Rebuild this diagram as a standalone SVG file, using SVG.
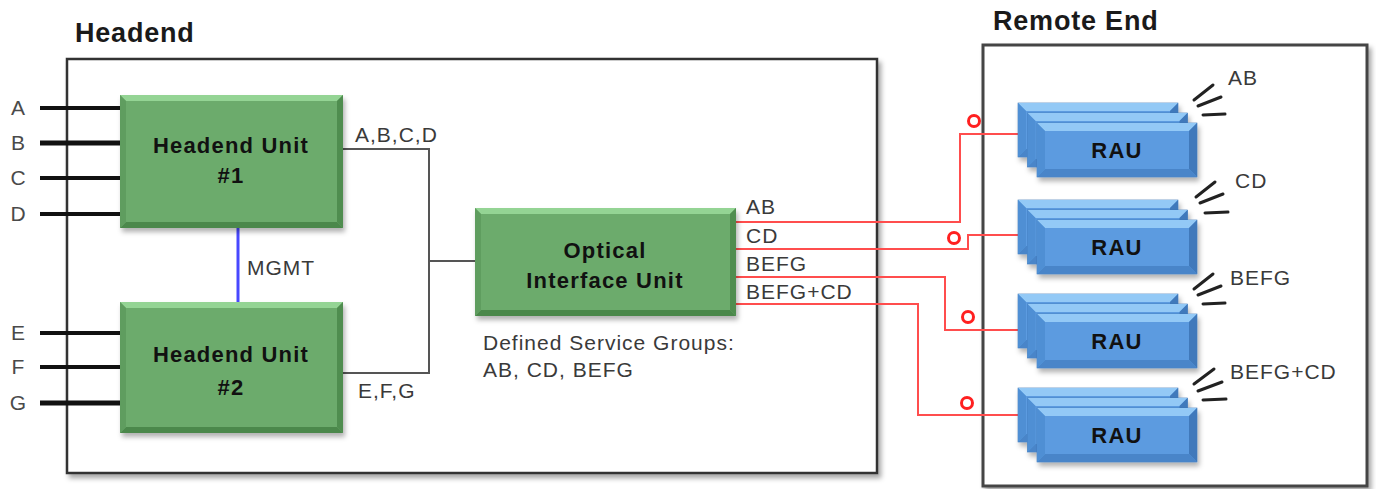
<svg xmlns="http://www.w3.org/2000/svg" width="1376" height="489" viewBox="0 0 1376 489">
<defs>
<filter id="sh" x="-5%" y="-5%" width="112%" height="115%"><feDropShadow dx="3" dy="4" stdDeviation="2.5" flood-color="#000" flood-opacity="0.35"/></filter>
<filter id="shs" x="-10%" y="-10%" width="125%" height="135%"><feDropShadow dx="2" dy="4" stdDeviation="2.5" flood-color="#000" flood-opacity="0.3"/></filter>
<g id="blk">
<rect x="0" y="0" width="160" height="54" class="bm"/>
<polygon points="0,0 160,0 152,8 8,8" class="btp"/>
<polygon points="160,0 160,54 152,46 152,8" class="brt"/>
<polygon points="0,54 160,54 152,46 8,46" class="bbt"/>
<polygon points="0,0 8,8 8,46 0,54" class="blf"/>
</g>
<g id="stack" filter="url(#shs)">
<use href="#blk" x="0" y="0"/>
<use href="#blk" x="9.5" y="10"/>
<use href="#blk" x="19" y="20"/>
</g>
</defs>
<style>
.title{font-family:"Liberation Sans",Arial,sans-serif;font-weight:bold;font-size:27px;fill:#1a1a1a;letter-spacing:0.8px}
.lbl{font-family:"Liberation Sans",Arial,sans-serif;font-size:21px;fill:#3a3a3a;letter-spacing:1px}
.io{font-family:"Liberation Sans",Arial,sans-serif;font-size:21px;fill:#4a4a4a;text-anchor:middle}
.nt{font-family:"Liberation Sans",Arial,sans-serif;font-weight:bold;font-size:22px;fill:#111;text-anchor:middle;letter-spacing:1.2px}
.box{fill:#fff;stroke:#333;stroke-width:2.5}
.gm{fill:#6cab6c}.gtp{fill:#94d494}.grt{fill:#4f8d4f}.gbt{fill:#4c884c}.glf{fill:#5f9d5f}
.bm{fill:#5b9be0;stroke:#3d74b4;stroke-width:0.6}.btp{fill:#93c9f6}.brt{fill:#3f79bb}.bbt{fill:#4985c9}.blf{fill:#4f8fd4}
.in{stroke:#111;stroke-width:4}
.gw{stroke:#555;stroke-width:2;fill:none}
.red{stroke:#ff4d4d;stroke-width:2;fill:none}
.ring{stroke:#ff2020;stroke-width:3;fill:#fff}
.ant{stroke:#222;stroke-width:3;stroke-linecap:round}
.mg{stroke:#4848ff;stroke-width:3}
</style>

<g id="headend">
<rect x="67" y="59" width="810" height="414" class="box" filter="url(#sh)"/>
<text x="75" y="42" class="title">Headend</text>
</g>
<g id="remote-end">
<rect x="983" y="45" width="384" height="441" class="box" filter="url(#sh)" style="stroke:#444;stroke-width:3"/>
<text x="993" y="30" class="title">Remote End</text>
</g>

<g id="inputs">
<line x1="40" y1="108" x2="121" y2="108" class="in"/>
<line x1="40" y1="143" x2="121" y2="143" class="in" style="stroke-width:5"/>
<line x1="40" y1="178" x2="121" y2="178" class="in"/>
<line x1="40" y1="214" x2="121" y2="214" class="in"/>
<line x1="40" y1="333" x2="121" y2="333" class="in"/>
<line x1="40" y1="367" x2="121" y2="367" class="in"/>
<line x1="40" y1="403" x2="121" y2="403" class="in" style="stroke-width:5"/>
<text x="18" y="115" class="io">A</text>
<text x="18" y="150" class="io">B</text>
<text x="18" y="185" class="io">C</text>
<text x="18" y="221" class="io">D</text>
<text x="18" y="340" class="io">E</text>
<text x="18" y="374" class="io">F</text>
<text x="18" y="410" class="io">G</text>
</g>

<g id="connectors">
<line x1="238" y1="228" x2="238" y2="302" class="mg"/>
<path d="M343,149 H429 V373 H343" class="gw"/>
<path d="M429,261 H475" class="gw"/>
<path d="M736,222 H960 V134 H1018" class="red"/>
<path d="M736,249 H968 V235 H1018" class="red"/>
<path d="M736,277 H945 V330 H1018" class="red"/>
<path d="M736,304 H918 V415 H1018" class="red"/>
<circle cx="974" cy="121" r="5.5" class="ring"/>
<circle cx="954" cy="238" r="5.5" class="ring"/>
<circle cx="968" cy="317" r="5.5" class="ring"/>
<circle cx="967" cy="403" r="5.5" class="ring"/>
<text x="247" y="275" class="lbl">MGMT</text>
<text x="355" y="142" class="lbl">A,B,C,D</text>
<text x="358" y="398" class="lbl">E,F,G</text>
<text x="746" y="214" class="lbl">AB</text>
<text x="746" y="243" class="lbl">CD</text>
<text x="746" y="271" class="lbl">BEFG</text>
<text x="746" y="299" class="lbl">BEFG+CD</text>
</g>

<g id="hu1">
<g filter="url(#shs)">
<rect x="120" y="95" width="223" height="133" class="gm"/>
<polygon points="120,95 343,95 337,101 126,101" class="gtp"/>
<polygon points="343,95 343,228 337,222 337,101" class="grt"/>
<polygon points="120,228 343,228 337,222 126,222" class="gbt"/>
<polygon points="120,95 126,101 126,222 120,228" class="glf"/>
</g>
<text x="231" y="153" class="nt">Headend Unit</text>
<text x="231" y="183" class="nt">#1</text>
</g>

<g id="hu2">
<g filter="url(#shs)">
<rect x="120" y="302" width="223" height="131" class="gm"/>
<polygon points="120,302 343,302 337,308 126,308" class="gtp"/>
<polygon points="343,302 343,433 337,427 337,308" class="grt"/>
<polygon points="120,433 343,433 337,427 126,427" class="gbt"/>
<polygon points="120,302 126,308 126,427 120,433" class="glf"/>
</g>
<text x="231" y="362" class="nt">Headend Unit</text>
<text x="231" y="395" class="nt">#2</text>
</g>

<g id="oiu">
<g filter="url(#shs)">
<rect x="475" y="208" width="261" height="108" class="gm"/>
<polygon points="475,208 736,208 730,214 481,214" class="gtp"/>
<polygon points="736,208 736,316 730,310 730,214" class="grt"/>
<polygon points="475,316 736,316 730,310 481,310" class="gbt"/>
<polygon points="475,208 481,214 481,310 475,316" class="glf"/>
</g>
<text x="605" y="258" class="nt">Optical</text>
<text x="605" y="288" class="nt">Interface Unit</text>
<text x="483" y="350" class="lbl">Defined Service Groups:</text>
<text x="483" y="377" class="lbl">AB, CD, BEFG</text>
</g>

<g id="rau1">
<use href="#stack" x="1018" y="103"/>
<text x="1117" y="158" class="nt">RAU</text>
<line x1="1194" y1="100" x2="1213" y2="85" class="ant"/>
<line x1="1198" y1="106" x2="1221" y2="97" class="ant"/>
<line x1="1203" y1="115" x2="1225" y2="114" class="ant"/>
<text x="1228" y="85" class="lbl">AB</text>
</g>
<g id="rau2">
<use href="#stack" x="1018" y="200"/>
<text x="1117" y="255" class="nt">RAU</text>
<line x1="1196" y1="197" x2="1215" y2="182" class="ant"/>
<line x1="1200" y1="203" x2="1223" y2="194" class="ant"/>
<line x1="1205" y1="213" x2="1228" y2="212" class="ant"/>
<text x="1235" y="188" class="lbl">CD</text>
</g>
<g id="rau3">
<use href="#stack" x="1018" y="294"/>
<text x="1117" y="349" class="nt">RAU</text>
<line x1="1194" y1="289" x2="1213" y2="274" class="ant"/>
<line x1="1198" y1="295" x2="1221" y2="286" class="ant"/>
<line x1="1203" y1="304" x2="1225" y2="303" class="ant"/>
<text x="1230" y="285" class="lbl">BEFG</text>
</g>
<g id="rau4">
<use href="#stack" x="1018" y="388"/>
<text x="1117" y="443" class="nt">RAU</text>
<line x1="1194" y1="384" x2="1214" y2="369" class="ant"/>
<line x1="1198" y1="391" x2="1222" y2="382" class="ant"/>
<line x1="1203" y1="400" x2="1226" y2="399" class="ant"/>
<text x="1230" y="379" class="lbl">BEFG+CD</text>
</g>
</svg>
